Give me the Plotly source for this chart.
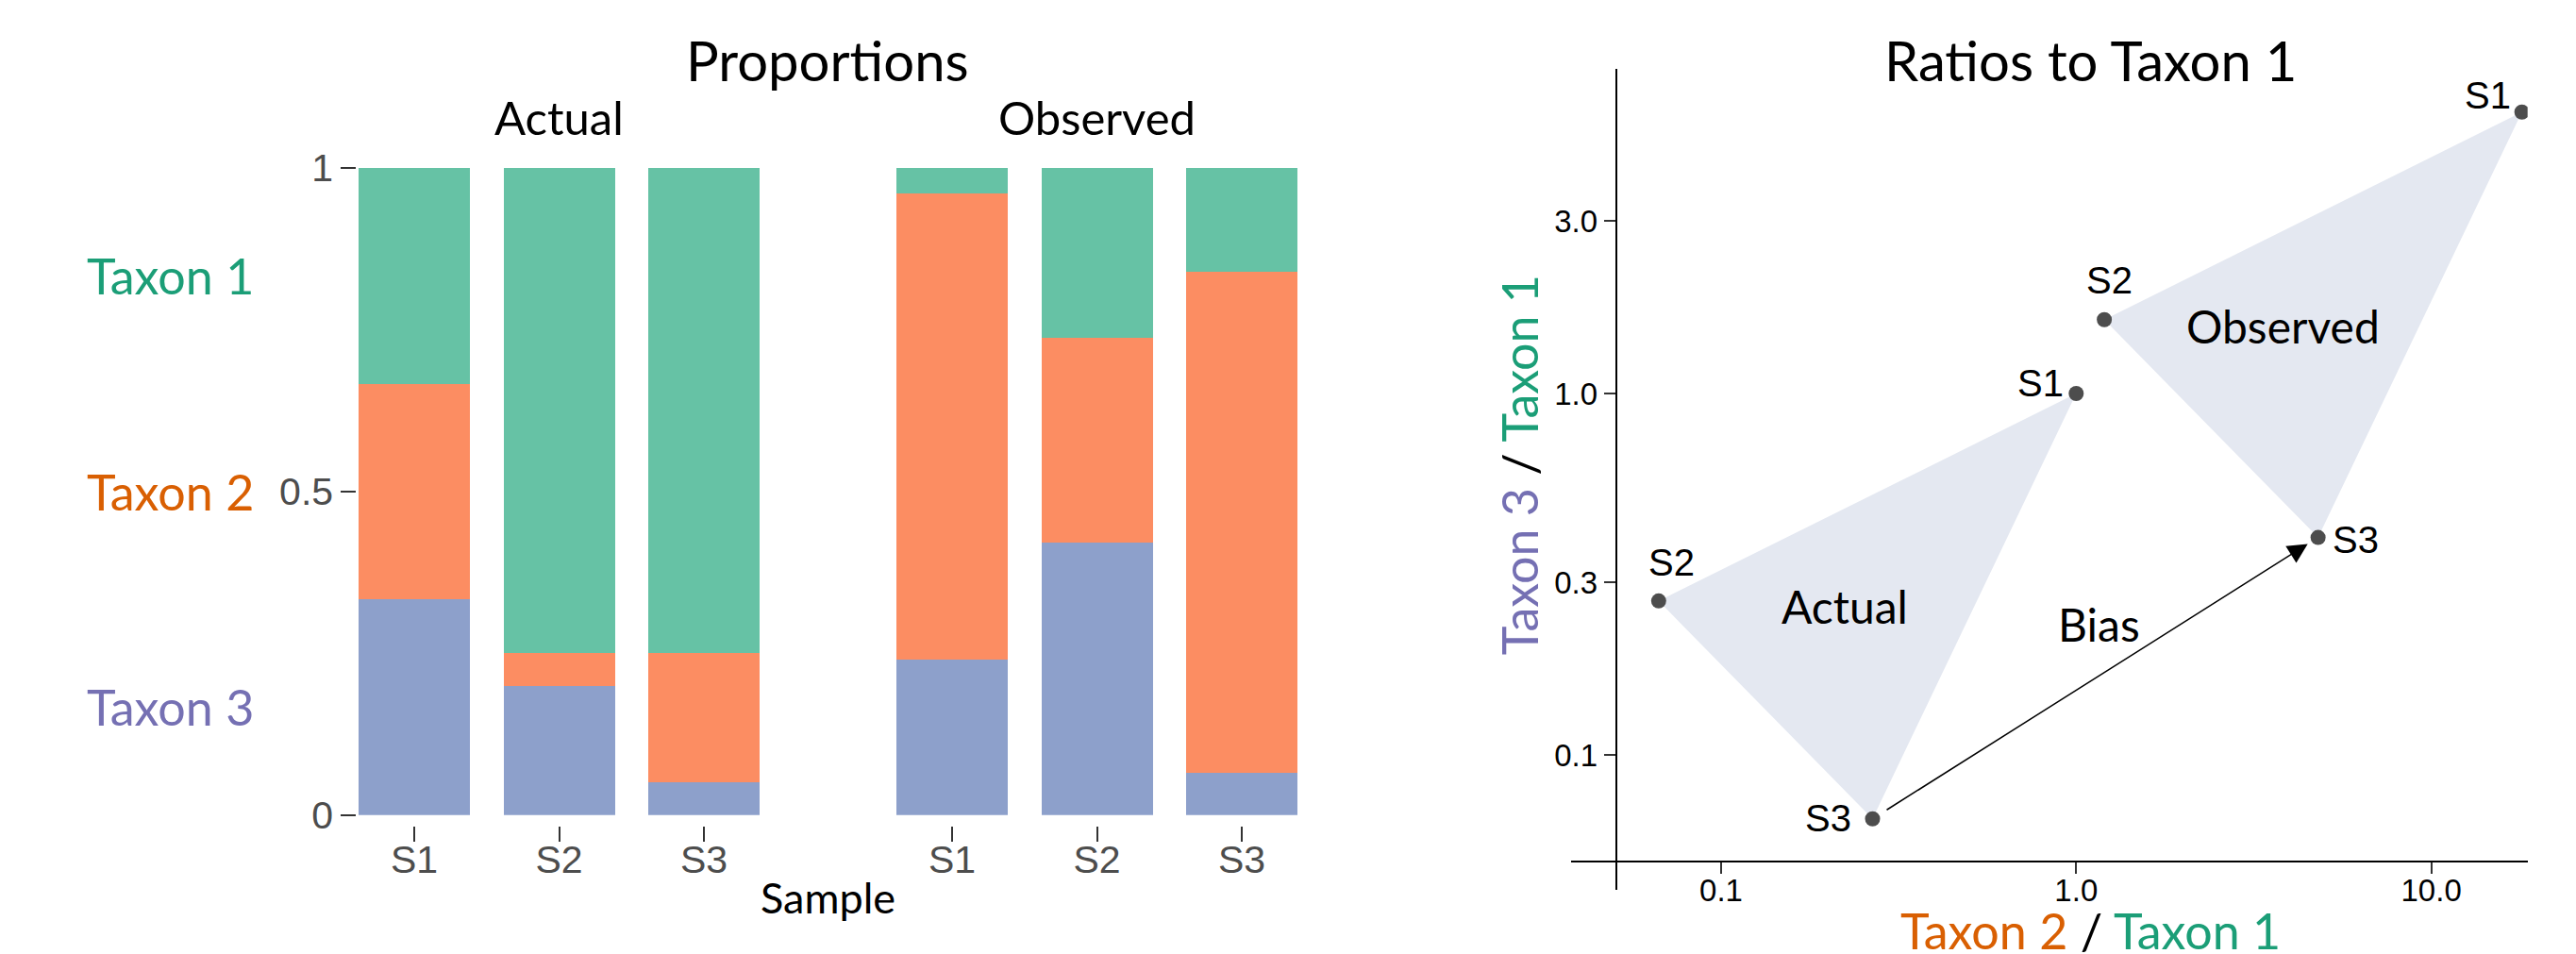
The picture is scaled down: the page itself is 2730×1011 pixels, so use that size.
import math
import plotly.graph_objects as go

W, H = 2730, 1011

samples = ["S1", "S2", "S3"]

# Proportions of each taxon per sample
actual_taxon1 = [0.3333, 0.75, 0.75]
actual_taxon2 = [0.3333, 0.05, 0.20]
actual_taxon3 = [0.3334, 0.20, 0.05]
observed_taxon1 = [0.04, 0.263, 0.161]
observed_taxon2 = [0.72, 0.316, 0.774]
observed_taxon3 = [0.24, 0.421, 0.065]

# Ratios to Taxon 1 (x: Taxon 2 / Taxon 1, y: Taxon 3 / Taxon 1)
actual_ratio_21 = [1.0, 0.0667, 0.267]
actual_ratio_31 = [1.0, 0.267, 0.0667]
observed_ratio_21 = [18.0, 1.2, 4.8]
observed_ratio_31 = [6.0, 1.6, 0.4]

bar_colors = {"Taxon 1": "#66C2A5", "Taxon 2": "#FC8D62", "Taxon 3": "#8DA0CB"}
label_colors = {"Taxon 1": "#1B9E77", "Taxon 2": "#D95F02", "Taxon 3": "#7570B3"}

TITLE_FONT = "Lato"
TICK_FONT = "Liberation Sans"


def px(x):
    return x / W


def py(y):
    return 1 - y / H


fig = go.Figure()

# ---- Proportions: stacked bars, one panel per facet ----
facets = [
    ("x", {"Taxon 1": actual_taxon1, "Taxon 2": actual_taxon2, "Taxon 3": actual_taxon3}),
    ("x2", {"Taxon 1": observed_taxon1, "Taxon 2": observed_taxon2, "Taxon 3": observed_taxon3}),
]
for xa, vals in facets:
    for taxon in ["Taxon 3", "Taxon 2", "Taxon 1"]:
        fig.add_trace(go.Bar(
            x=samples, y=vals[taxon], xaxis=xa, yaxis="y",
            width=0.7687, marker=dict(color=bar_colors[taxon], line=dict(width=0)),
            name=taxon, showlegend=False, hoverinfo="x+y+name",
        ))

# ---- Ratios to Taxon 1: triangles, points and bias arrow ----
tri_fill = "#E4E8F1"
for rx, ry in [(actual_ratio_21, actual_ratio_31), (observed_ratio_21, observed_ratio_31)]:
    fig.add_trace(go.Scatter(
        x=rx + rx[:1], y=ry + ry[:1], xaxis="x3", yaxis="y3",
        mode="lines", fill="toself", fillcolor=tri_fill,
        line=dict(width=0, color=tri_fill), showlegend=False, hoverinfo="skip",
    ))
fig.add_trace(go.Scatter(
    x=actual_ratio_21 + observed_ratio_21, y=actual_ratio_31 + observed_ratio_31,
    xaxis="x3", yaxis="y3", mode="markers",
    marker=dict(size=16, color="#4D4D4D"), showlegend=False,
    text=samples + samples, hoverinfo="text+x+y",
))

left_tick_font = dict(family=TICK_FONT, size=41, color="#4D4D4D")
right_tick_font = dict(family=TICK_FONT, size=33, color="black")

bar_xaxis = dict(
    type="category", range=[-0.3844, 2.3844], anchor="free", position=py(875),
    showgrid=False, zeroline=False, showline=False, automargin=False,
    ticks="outside", ticklen=16, tickwidth=1.6, tickcolor="#333333",
    ticklabelstandoff=-16,
    tickfont=left_tick_font, fixedrange=True,
)

fig.update_layout(
    template="none",
    width=W, height=H,
    margin=dict(l=0, r=0, t=0, b=0, pad=0, autoexpand=False),
    paper_bgcolor="white", plot_bgcolor="white",
    barmode="stack", showlegend=False,
    xaxis=dict(domain=[px(380), px(805)], **bar_xaxis),
    xaxis2=dict(domain=[px(950), px(1375)], **bar_xaxis),
    yaxis=dict(
        domain=[py(863.7), py(178)], range=[0, 1], anchor="free", position=px(377.3),
        tickvals=[0, 0.5, 1], ticktext=["0", "0.5", "1"],
        showgrid=False, zeroline=False, showline=False, automargin=False,
        ticks="outside", ticklen=16, tickwidth=1.6, tickcolor="#333333",
        tickfont=left_tick_font, fixedrange=True,
    ),
    xaxis3=dict(
        type="log", domain=[px(1665.4), px(2678.7)], range=[-1.4215, 1.2713],
        anchor="free", position=py(913.3),
        tickvals=[0.1, 1, 10], ticktext=["0.1", "1.0", "10.0"],
        showgrid=False, zeroline=False, showline=True, linecolor="black", linewidth=1.5,
        automargin=False,
        ticks="outside", ticklen=12, tickwidth=1.6, tickcolor="#333333",
        ticklabelstandoff=-11,
        tickfont=right_tick_font, fixedrange=True,
    ),
    yaxis3=dict(
        type="log", domain=[py(943.3), py(73.3)], range=[-1.373, 0.8967],
        anchor="free", position=px(1712.5),
        tickvals=[0.1, 0.3, 1, 3], ticktext=["0.1", "0.3", "1.0", "3.0"],
        showgrid=False, zeroline=False, showline=True, linecolor="black", linewidth=1.5,
        automargin=False,
        ticks="outside", ticklen=12, tickwidth=1.6, tickcolor="#333333",
        tickfont=right_tick_font, fixedrange=True,
    ),
)

ann = []


def paper_text(text, x, y, size, color="black", xanchor="center", textangle=0):
    ann.append(dict(
        text=text, xref="paper", yref="paper", x=px(x), y=py(y),
        xanchor=xanchor, yanchor="middle", showarrow=False, textangle=textangle,
        font=dict(family=TITLE_FONT, size=size, color=color),
    ))


# Panel titles, facet strips and axis titles
paper_text("Proportions", 877, 63.5, 58)
paper_text("Actual", 592.5, 124.5, 49)
paper_text("Observed", 1162.5, 124.5, 49)
paper_text("Sample", 877, 951, 45)
paper_text("Ratios to Taxon 1", 2215, 63.5, 58)
paper_text(
    "<span style='color:%s'>Taxon 2</span> / <span style='color:%s'>Taxon 1</span>"
    % (label_colors["Taxon 2"], label_colors["Taxon 1"]),
    2215, 986, 52,
)
paper_text(
    "<span style='color:%s'>Taxon 3</span> / <span style='color:%s'>Taxon 1</span>"
    % (label_colors["Taxon 3"], label_colors["Taxon 1"]),
    1610, 493.3, 52, textangle=-90,
)

# Taxon labels beside the stacked bars
for taxon, ypos in [("Taxon 1", 5 / 6), ("Taxon 2", 1 / 2), ("Taxon 3", 1 / 6)]:
    ann.append(dict(
        text=taxon, xref="paper", yref="y", x=px(90), y=ypos,
        xanchor="left", yanchor="middle", showarrow=False,
        font=dict(family=TITLE_FONT, size=52, color=label_colors[taxon]),
    ))

# Region labels inside the ratio panel (log10 coordinates)
for text, lx, ly in [("Actual", -0.6516, -0.5883), ("Observed", 0.582, 0.1878), ("Bias", 0.0654, -0.6366)]:
    ann.append(dict(
        text=text, xref="x3", yref="y3", x=lx, y=ly,
        xanchor="center", yanchor="middle", showarrow=False,
        font=dict(family=TITLE_FONT, size=48, color="black"),
    ))

# Sample labels next to each point
point_labels = [
    # (x ratio, y ratio, text, xanchor, xshift, yshift)
    (actual_ratio_21[0], actual_ratio_31[0], "S1", "right", -11.7, 11.5),
    (actual_ratio_21[1], actual_ratio_31[1], "S2", "center", 13.8, 41.2),
    (actual_ratio_21[2], actual_ratio_31[2], "S3", "right", -20.2, 0.5),
    (observed_ratio_21[0], observed_ratio_31[0], "S1", "right", -9.5, 17.3),
    (observed_ratio_21[1], observed_ratio_31[1], "S2", "center", 5.2, 42.1),
    (observed_ratio_21[2], observed_ratio_31[2], "S3", "left", 13.3, -2.7),
]
for rx, ry, text, xa, xs, ys in point_labels:
    ann.append(dict(
        text=text, xref="x3", yref="y3", x=math.log10(rx), y=math.log10(ry),
        xanchor=xa, yanchor="middle", xshift=xs, yshift=ys, showarrow=False,
        font=dict(family=TICK_FONT, size=40, color="black"),
    ))

# Bias arrow from actual S3 to observed S3
ann.append(dict(
    text="", xref="x3", yref="y3", axref="x3", ayref="y3",
    x=math.log10(observed_ratio_21[2]), y=math.log10(observed_ratio_31[2]),
    ax=math.log10(actual_ratio_21[2]), ay=math.log10(actual_ratio_31[2]),
    showarrow=True, arrowhead=2, arrowsize=2.8, arrowwidth=1.5, arrowcolor="black",
    standoff=13, startstandoff=16,
))

fig.update_layout(annotations=ann)

fig.write_html("out.html")
